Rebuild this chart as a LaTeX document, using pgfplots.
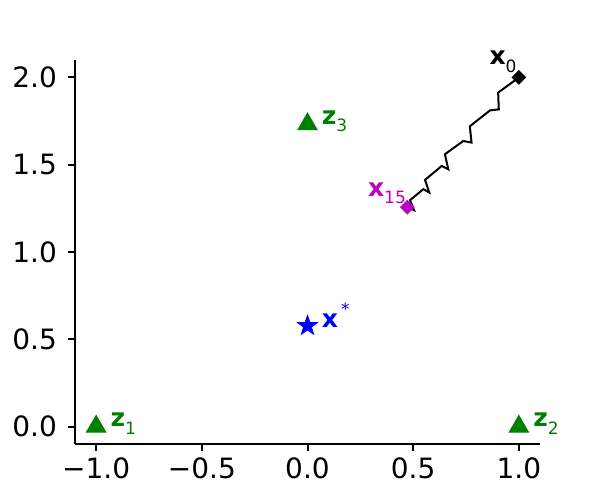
\documentclass[border=0pt]{standalone}
\usepackage{fontspec}
\setmainfont{DejaVu Sans}
\usepackage{pgfplots}
\pgfplotsset{compat=1.18}
\definecolor{mgreen}{rgb}{0,0.5,0}
\definecolor{mblue}{rgb}{0,0,1}
\definecolor{mmag}{rgb}{0.75,0,0.75}
% filled five-pointed star
\pgfdeclareplotmark{fstar}{%
  \pgfpathmoveto{\pgfpointpolar{90}{\pgfplotmarksize}}%
  \pgfpathlineto{\pgfpointpolar{126}{0.4\pgfplotmarksize}}%
  \pgfpathlineto{\pgfpointpolar{162}{\pgfplotmarksize}}%
  \pgfpathlineto{\pgfpointpolar{198}{0.4\pgfplotmarksize}}%
  \pgfpathlineto{\pgfpointpolar{234}{\pgfplotmarksize}}%
  \pgfpathlineto{\pgfpointpolar{270}{0.4\pgfplotmarksize}}%
  \pgfpathlineto{\pgfpointpolar{306}{\pgfplotmarksize}}%
  \pgfpathlineto{\pgfpointpolar{342}{0.4\pgfplotmarksize}}%
  \pgfpathlineto{\pgfpointpolar{18}{\pgfplotmarksize}}%
  \pgfpathlineto{\pgfpointpolar{54}{0.4\pgfplotmarksize}}%
  \pgfpathclose\pgfusepathqfillstroke}
% subscript / superscript for the point labels
\newcommand{\sub}[1]{\raisebox{-3.8bp}{\fontsize{8.5bp}{10bp}\selectfont\mdseries #1}}
\newcommand{\sps}[1]{\raisebox{6bp}{\fontsize{8.5bp}{10bp}\selectfont\mdseries #1}}
\newcommand{\lbl}{\fontsize{12.5bp}{15bp}\selectfont\bfseries}

\begin{document}
\begin{tikzpicture}
\begin{axis}[
    scale only axis,
    width=232.5bp, height=192bp,
    xmin=-1.1, xmax=1.1, ymin=-0.1, ymax=2.1,
    axis x line*=bottom, axis y line*=left,
    axis line style={-, line width=1bp},
    tick align=outside,
    major tick length=3.5bp,
    tick style={line width=1bp, black},
    xtick={-1,-0.5,0,0.5,1},
    xticklabels={−1.0,−0.5,0.0,0.5,1.0},
    ytick={0,0.5,1,1.5,2},
    yticklabels={0.0,0.5,1.0,1.5,2.0},
    ticklabel style={font=\fontsize{14bp}{16bp}\selectfont},
    yticklabel style={xshift=-2bp},
    clip=false,
]
\coordinate (O) at (rel axis cs:0,0);
% iterate path x_0 ... x_15
\addplot[black, line width=1bp, mark=none] coordinates {
    (1.000,2.000) (0.902,1.913) (0.905,1.817) (0.863,1.811)
    (0.768,1.720) (0.776,1.627) (0.737,1.636) (0.650,1.560)
    (0.666,1.474) (0.635,1.493) (0.556,1.413) (0.576,1.341)
    (0.548,1.360) (0.485,1.297) (0.504,1.240) (0.472,1.257)
};
% vertices z_1, z_2, z_3
\addplot[only marks, mark=triangle*, mark size=5.6bp, color=mgreen] coordinates {
    (-1,0) (1,0) (0,1.732)
};
% solution
\addplot[only marks, mark=fstar, mark size=5.2bp, color=mblue] coordinates {(0,0.577)};
% start and end points
\addplot[only marks, mark=square*, mark size=2.4bp, color=black,
    mark options={rotate=45}] coordinates {(1,2)};
\addplot[only marks, mark=square*, mark size=2.4bp, color=mmag,
    mark options={rotate=45}] coordinates {(0.472,1.257)};

\node[anchor=base west, inner sep=0, text=mgreen, xshift=7bp] at (axis cs:-1,0) {\lbl z\sub{1}};
\node[anchor=base west, inner sep=0, text=mgreen, xshift=7bp] at (axis cs:1,0) {\lbl z\sub{2}};
\node[anchor=base west, inner sep=0, text=mgreen, xshift=7bp] at (axis cs:0,1.732) {\lbl z\sub{3}};
\node[anchor=base west, inner sep=0, text=mblue, xshift=7bp, yshift=-1bp] at (axis cs:0,0.577) {\lbl x\hspace{1.5bp}\sps{*}};
\node[anchor=base east, inner sep=0, text=black, xshift=-1bp, yshift=6.5bp] at (axis cs:1,2) {\lbl x\sub{0}};
\node[anchor=base east, inner sep=0, text=mmag, xshift=-0.5bp, yshift=5.5bp] at (axis cs:0.472,1.257) {\lbl x\sub{15}};
\end{axis}
\path (O) ++(-37.5bp,-28bp) rectangle ++(300bp,250bp);
\end{tikzpicture}
\end{document}
